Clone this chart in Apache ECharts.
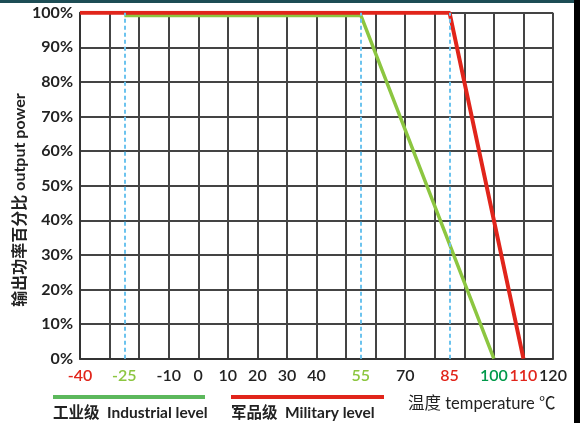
<!DOCTYPE html>
<html><head><meta charset="utf-8">
<script src="https://cdn.jsdelivr.net/npm/echarts@6/dist/echarts.min.js"></script>
<style>html,body{margin:0;padding:0;background:#fff}#c{width:580px;height:423px}</style>
</head><body><div id="c"></div>
<script>
const militaryCurve = [[-40, 100], [85, 100], [110, 0]];
const industrialCurve = [[-25, 99.2], [55, 99.2], [100, 0]];
const xTickLabels = [-40, -25, -10, 0, 10, 20, 30, 40, 55, 70, 85, 100, 110, 120];
const redLabels = [-40, 85, 110];
const lightGreenLabels = [-25, 55];
const darkGreenLabels = [100];
const dashedMarks = [-25, 55, 85];
const yTicks = [0, 10, 20, 30, 40, 50, 60, 70, 80, 90, 100];

const FONT = 'Lato, "Noto Sans CJK SC", sans-serif';
const RED = '#e1251b', LGREEN = '#8cc640', DGREEN = '#00994a', BLUE = '#6cc3ee';
const XL = {fontFamily: FONT, fontSize: 16, fontWeight: 600};

const chart = echarts.init(document.getElementById('c'));
chart.setOption({
  animation: false,
  grid: {left: 80, right: 27, top: 12.7, bottom: 64.3},
  xAxis: {
    type: 'value', min: -40, max: 120, interval: 10,
    axisLine: {show: true, onZero: false, lineStyle: {color: '#333', width: 2}},
    axisTick: {show: false},
    splitLine: {show: true, lineStyle: {color: '#444', width: 2}},
    axisLabel: {
      customValues: xTickLabels,
      margin: 9,
      fontFamily: FONT, fontSize: 16, color: '#222',
      formatter: v => {
        if (redLabels.includes(v)) return '{r|' + v + '}';
        if (lightGreenLabels.includes(v)) return '{g|' + v + '}';
        if (darkGreenLabels.includes(v)) return '{d|' + v + '}';
        return '{k|' + v + '}';
      },
      rich: {
        r: Object.assign({color: RED}, XL),
        g: Object.assign({color: LGREEN}, XL),
        d: Object.assign({color: DGREEN}, XL),
        k: Object.assign({color: '#222'}, XL)
      }
    }
  },
  yAxis: {
    type: 'value', min: 0, max: 100, interval: 10,
    axisLine: {show: true, onZero: false, lineStyle: {color: '#333', width: 2}},
    axisTick: {show: false},
    splitLine: {show: true, lineStyle: {color: '#444', width: 2}},
    axisLabel: {
      margin: 7, fontFamily: FONT, fontSize: 16, fontWeight: 'bold', color: '#222',
      formatter: v => yTicks.includes(v) ? v + '%' : ''
    }
  },
  series: [
    {
      type: 'line', data: industrialCurve, symbol: 'none', z: 3,
      lineStyle: {color: LGREEN, width: 3.5},
      markLine: {
        silent: true, symbol: 'none', label: {show: false},
        lineStyle: {color: BLUE, type: [4, 3], width: 2},
        data: dashedMarks.map(v => ({xAxis: v}))
      }
    },
    {
      type: 'line', data: militaryCurve, symbol: 'none', z: 4,
      lineStyle: {color: RED, width: 4}
    }
  ],
  graphic: [
    {type: 'rect', shape: {x: 0, y: 0, width: 580, height: 3}, style: {fill: '#1d4d55'}},
    {type: 'rect', shape: {x: 574, y: 0, width: 6, height: 423}, style: {fill: '#000'}},
    {type: 'text', x: 20, y: 200, rotation: Math.PI / 2,
      style: {text: '输出功率百分比 output power', font: 'bold 16px ' + FONT, fill: '#222', align: 'center', verticalAlign: 'middle'}},
    {type: 'rect', shape: {x: 53, y: 395, width: 152, height: 4}, style: {fill: '#5cb85c'}},
    {type: 'rect', shape: {x: 231, y: 395, width: 153, height: 4}, style: {fill: RED}},
    {type: 'text', x: 53, y: 413,
      style: {text: '工业级  Industrial level', font: 'bold 15.5px ' + FONT, fill: '#222', align: 'left', verticalAlign: 'middle'}},
    {type: 'text', x: 231, y: 413,
      style: {text: '军品级  Military level', font: 'bold 15.5px ' + FONT, fill: '#222', align: 'left', verticalAlign: 'middle'}},
    {type: 'text', x: 408, y: 404,
      style: {text: '温度 temperature ℃', font: '16.5px ' + FONT, fill: '#222', align: 'left', verticalAlign: 'middle'}}
  ]
});
</script></body></html>
